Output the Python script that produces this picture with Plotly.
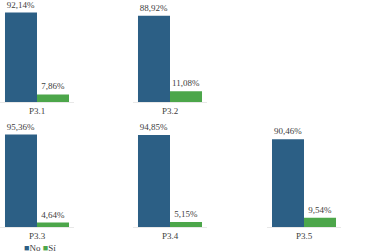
import plotly.graph_objects as go

categories = ["P3.1", "P3.2", "P3.3", "P3.4", "P3.5"]
no_values = [92.14, 88.92, 95.36, 94.85, 90.46]
si_values = [7.86, 11.08, 4.64, 5.15, 9.54]
series_names = ["No", "Sí"]
colors = ["#2C5F85", "#4CA64A"]

W, H = 370, 252
FONT = "Liberation Serif"

def fmt(v):
    return f"{v:.2f}".replace(".", ",") + "%"

# panel centres/rows in pixels (layout only)
centers = [37, 170, 37, 170, 304]
rows = [0, 0, 1, 1, 1]
row_px = [(5, 102), (130, 227)]
half = 37

fig = go.Figure()
layout = {}
for i, cat in enumerate(categories):
    n = i + 1
    xa = "x" if n == 1 else f"x{n}"
    ya = "y" if n == 1 else f"y{n}"
    for s, (name, vals) in enumerate(zip(series_names, [no_values, si_values])):
        fig.add_trace(go.Bar(
            x=[cat], y=[vals[i]], name=name,
            marker=dict(color=colors[s], line=dict(width=0)),
            text=[fmt(vals[i])], textposition="outside",
            textfont=dict(family=FONT, size=9, color="#404040"),
            cliponaxis=False, showlegend=False, legendgroup=name,
            xaxis=xa, yaxis=ya, offsetgroup=str(s),
        ))
    c = centers[i]
    top, bot = row_px[rows[i]]
    layout[f"xaxis{'' if n == 1 else n}"] = dict(
        domain=[max(0, (c - half)) / W, (c + half) / W], anchor=ya,
        showline=True, linecolor="#e8e8e8", linewidth=1,
        tickfont=dict(family=FONT, size=9, color="#404040"), ticks="",
        showgrid=False, fixedrange=True, automargin=False,
    )
    layout[f"yaxis{'' if n == 1 else n}"] = dict(
        domain=[1 - bot / H, 1 - top / H], anchor=xa, range=[0, 100],
        visible=False, showgrid=False, fixedrange=True, automargin=False,
    )

# compact legend: coloured squares followed by series names
legend_text = " ".join(
    f"<span style='color:{c}'>■</span>{n}" for n, c in zip(series_names, colors)
)

fig.update_layout(
    width=W, height=H, margin=dict(l=0, r=0, t=0, b=0, autoexpand=False),
    paper_bgcolor="white", plot_bgcolor="white",
    barmode="group", bargap=0.135, bargroupgap=0,
    showlegend=False, hovermode=False,
    annotations=[dict(
        text=legend_text, xref="paper", yref="paper", x=22 / W, y=1 - 248 / H,
        xanchor="left", yanchor="middle", showarrow=False,
        font=dict(family=FONT, size=9, color="#404040"),
    )],
    **layout,
)

fig.write_html("out.html", config={"displayModeBar": False},
               post_script="document.body.style.margin='0';")
